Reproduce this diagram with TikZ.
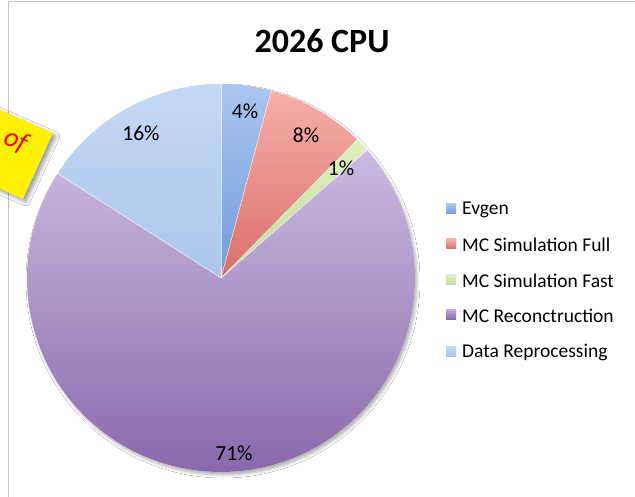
\documentclass[tikz,border=0pt]{standalone}
\usepackage{fontspec}
\setmainfont{Carlito}
\usetikzlibrary{shadows.blur}
\definecolor{evTop}{HTML}{AAC6F0}
\definecolor{evBot}{HTML}{6E9CDB}
\definecolor{rdTop}{HTML}{F7AEA8}
\definecolor{rdBot}{HTML}{D96F6A}
\definecolor{grTop}{HTML}{DDEEBD}
\definecolor{grBot}{HTML}{C3DD98}
\definecolor{puTop}{HTML}{CABAE0}
\definecolor{puBot}{HTML}{8463A7}
\definecolor{daTop}{HTML}{C5D8F5}
\definecolor{daBot}{HTML}{ABC5EC}
\definecolor{frameGray}{HTML}{C4C4C4}
\tikzset{
  pct/.style={font=\fontsize{21.5}{24}\selectfont, text=black, inner sep=0pt},
  legtext/.style={font=\fontsize{19.5}{22}\selectfont, anchor=west, inner sep=0pt},
  legbox/.style={minimum size=10pt, inner sep=0pt, draw=none},
  sep/.style={draw=white, draw opacity=0.7, line width=0.6pt},
}
\begin{document}
\begin{tikzpicture}[x=1pt,y=-1pt]
\useasboundingbox (0,0) rectangle (635,497);
\fill[white] (0,0) rectangle (635,497);
% frame
\draw[frameGray, line width=1pt] (8,497) -- (8,2) -- (635,2);
% title
\node[font=\bfseries\fontsize{34}{38}\selectfont, inner sep=0pt] (title) at (322,41) {2026 CPU};
% yellow note
\coordinate (tr) at (53,133);
\coordinate (br) at (23,199);
\fill[yellow, blur shadow={shadow xshift=3pt, shadow yshift=-3pt, shadow blur radius=4pt, shadow opacity=40}]
  (tr) -- (br) -- (-160,119) -- (-130,53) -- cycle;
\node[text=red, font=\itshape\fontsize{28}{30}\selectfont, rotate=-23.5, inner sep=0pt] (of) at (16,141) {of};
% pie
\begin{scope}[shift={(221,278)}]
  \fill[white, blur shadow={shadow xshift=2pt, shadow yshift=-3pt, shadow blur radius=3pt, shadow opacity=30}] (0,0) circle[radius=194pt];
  \shade[top color=evTop, bottom color=evBot] (0,0) -- (90:194pt) arc[start angle=90, end angle=75, radius=194pt] -- cycle;
  \shade[top color=rdTop, bottom color=rdBot] (0,0) -- (75:194pt) arc[start angle=75, end angle=45.4, radius=194pt] -- cycle;
  \shade[top color=grTop, bottom color=grBot] (0,0) -- (45.4:194pt) arc[start angle=45.4, end angle=41.2, radius=194pt] -- cycle;
  \shade[top color=puTop, bottom color=puBot] (0,0) -- (41.2:194pt) arc[start angle=41.2, end angle=-212.6, radius=194pt] -- cycle;
  \shade[top color=daTop, bottom color=daBot] (0,0) -- (147.4:194pt) arc[start angle=147.4, end angle=90, radius=194pt] -- cycle;
  \coordinate (c) at (0,0);
  \draw[sep] (c) -- (90:194pt);
  \draw[sep] (c) -- (75:194pt);
  \draw[sep] (c) -- (45.4:194pt);
  \draw[sep] (c) -- (41.2:194pt);
  \draw[sep] (c) -- (147.4:194pt);
\end{scope}
% percentage labels
\node[pct] (p1) at (245,111) {4\%};
\node[pct] (p2) at (306,135) {8\%};
\node[pct] (p3) at (341,168) {1\%};
\node[pct] (p4) at (234,453) {71\%};
\node[pct] (p5) at (141,133) {16\%};
% legend
\node[legbox, top color=evTop, bottom color=evBot] (l1) at (451,209) {};
\node[legbox, top color=rdTop, bottom color=rdBot] (l2) at (451,244) {};
\node[legbox, top color=grTop, bottom color=grBot] (l3) at (451,280) {};
\node[legbox, top color=puTop!80!puBot, bottom color=puBot] (l4) at (451,315) {};
\node[legbox, top color=daTop, bottom color=daBot] (l5) at (451,351) {};
\node[legtext] (t1) at (462,210) {Evgen};
\node[legtext] (t2) at (462,245) {MC Simulation Full};
\node[legtext] (t3) at (462,281) {MC Simulation Fast};
\node[legtext] (t4) at (462,316) {MC Reconctruction};
\node[legtext] (t5) at (462,352) {Data Reprocessing};
\end{tikzpicture}
\end{document}
